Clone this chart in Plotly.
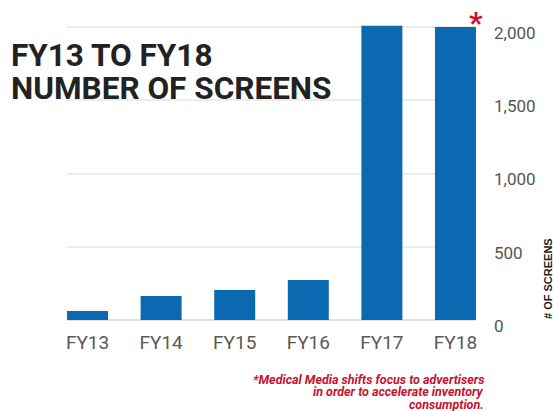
import plotly.graph_objects as go

categories = ["FY13", "FY14", "FY15", "FY16", "FY17", "FY18"]
screens = [61, 164, 205, 273, 2008, 2000]
tick_vals = [0, 500, 1000, 1500, 2000]
tick_text = ["0", "500", "1,000", "1,500", "2,000"]
title_lines = ["FY13 TO FY18", "NUMBER OF SCREENS"]
note_lines = ["*Medical Media shifts focus to advertisers",
              "in order to accelerate inventory",
              "consumption."]

W, H = 553, 411
L, R, T, B = 67, 77, 21, 91
pw = W - L - R
ph = H - T - B

fig = go.Figure()
fig.add_trace(go.Bar(
    x=categories, y=screens,
    marker=dict(color="#0a69b1", line=dict(width=0)),
    hoverinfo="skip",
))

fig.update_layout(
    width=W, height=H,
    margin=dict(l=L, r=R, t=T, b=B, pad=0),
    paper_bgcolor="white", plot_bgcolor="white",
    showlegend=False,
    bargap=0.443,
    font=dict(family="Roboto", color="#555555"),
    xaxis=dict(
        range=[-0.279, 5.279],
        showgrid=False, zeroline=False,
        showline=False,
        tickfont=dict(size=19, color="#5a5a5a"),
        ticks="", ticklabelstandoff=9,
    ),
    yaxis=dict(
        range=[0, 2041], side="right",
        tickvals=tick_vals, ticktext=tick_text,
        showgrid=True, gridcolor="#ececec", gridwidth=1.5,
        zeroline=True, zerolinecolor="#e0e0e0", zerolinewidth=2,
        tickfont=dict(size=17, color="#555555"),
        ticks="", ticklabelstandoff=17, ticklabelshift=6,
        showline=False,
    ),
)

def px_x(x):
    return (x - L) / pw

def px_y(y):
    return (H - B - y) / ph

for i, line in enumerate(title_lines):
    fig.add_annotation(
        text="<b>" + line + "</b>",
        xref="paper", yref="paper", x=px_x(9), y=px_y(55 + 34 * i),
        xanchor="left", yanchor="middle", align="left", showarrow=False,
        font=dict(family="Roboto", size=31.5, color="#222222"),
    )

fig.add_annotation(
    text="<b>*</b>",
    xref="paper", yref="paper", x=px_x(476), y=px_y(22),
    xanchor="center", yanchor="middle", showarrow=False,
    font=dict(family="Roboto", size=30, color="#c8102e"),
)

for i, line in enumerate(note_lines):
    fig.add_annotation(
        text="<b><i>" + line + "</i></b>",
        xref="paper", yref="paper", x=px_x(486), y=px_y(379 + 12.5 * i),
        xanchor="right", yanchor="middle", align="right", showarrow=False,
        font=dict(family="Roboto", size=12.5, color="#c8102e"),
    )

fig.add_annotation(
    text="<b># OF SCREENS</b>",
    xref="paper", yref="paper", x=px_x(548), y=px_y(279),
    xanchor="center", yanchor="middle", textangle=-90, showarrow=False,
    font=dict(family="Liberation Sans", size=11, color="#222222"),
)

fig.write_html("out.html")
